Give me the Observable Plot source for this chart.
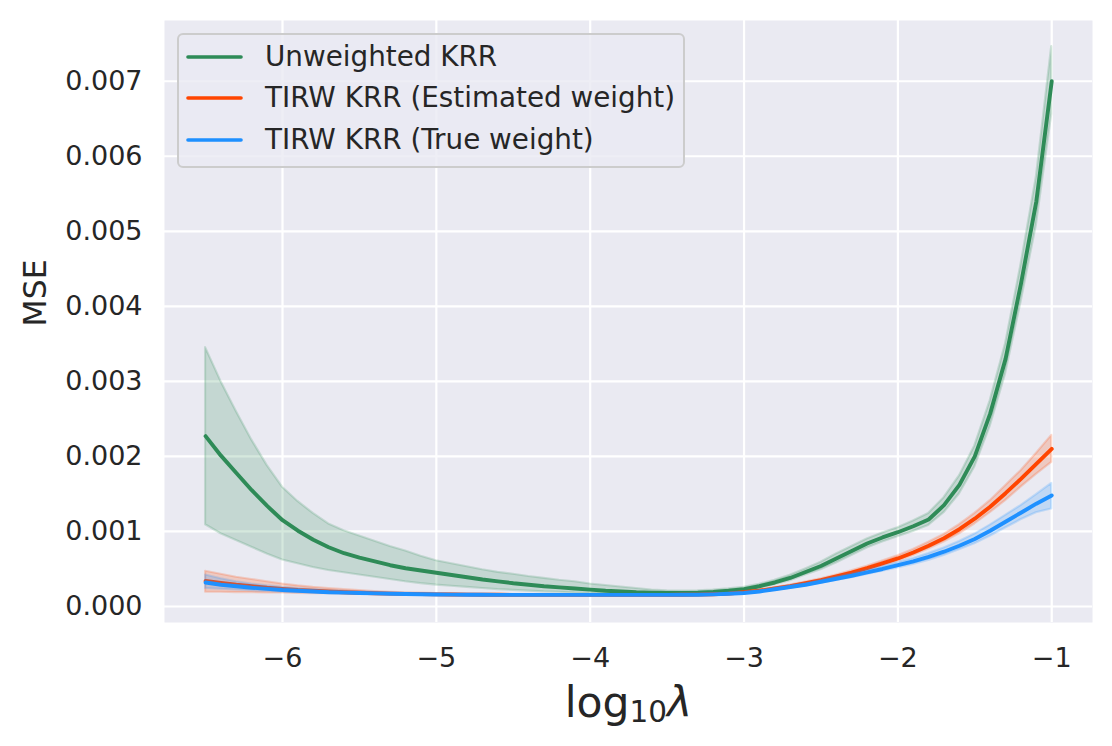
<!DOCTYPE html>
<html><head><meta charset="utf-8">
<script src="https://cdn.jsdelivr.net/npm/d3@7"></script>
<script src="https://cdn.jsdelivr.net/npm/@observablehq/plot@0.6"></script>
<style>
body{margin:0;background:#fff;}
#wrap{position:relative;width:1112px;height:746px;font-family:"DejaVu Sans",sans-serif;color:#262626;}
#legend{position:absolute;left:177px;top:33px;width:508px;height:135px;box-sizing:border-box;border:2px solid #cccccc;border-radius:6px;background:rgba(234,234,242,0.8);padding-top:1px;}
.row{display:flex;align-items:center;height:41.6px;}
.row svg{margin-left:7px;width:57px;height:10px;flex:none;}
.row span{margin-left:22px;font-size:27.8px;white-space:nowrap;line-height:1;}
</style></head>
<body>
<div id="wrap"><div id="legend"></div></div>
<script>
// log10(lambda) grid
const xs = [-6.5,-6.4,-6.3,-6.2,-6.1,-6.0,-5.9,-5.8,-5.7,-5.6,
  -5.5,-5.4,-5.3,-5.2,-5.1,-5.0,-4.9,-4.8,-4.7,-4.6,
  -4.5,-4.4,-4.3,-4.2,-4.1,-4.0,-3.9,-3.8,-3.7,-3.6,
  -3.5,-3.4,-3.3,-3.2,-3.1,-3.0,-2.9,-2.8,-2.7,-2.6,
  -2.5,-2.4,-2.3,-2.2,-2.1,-2.0,-1.9,-1.8,-1.7,-1.6,
  -1.5,-1.4,-1.3,-1.2,-1.1,-1.0];

const seriesNames = ["Unweighted KRR", "TIRW KRR (Estimated weight)", "TIRW KRR (True weight)"];

const unweightedMean = [0.00227,0.00201,0.00178,0.00155,0.00134,0.00115,0.00101,0.00089,0.00079,0.00071,
  0.00065,0.00060,0.00055,0.00051,0.00048,0.00045,0.00042,0.00039,0.00036,0.000335,
  0.00031,0.00029,0.00027,0.000255,0.00024,0.000225,0.00021,0.00020,0.00019,0.000185,
  0.00018,0.00018,0.000185,0.000195,0.00021,0.00023,0.00027,0.00032,0.00038,0.00046,
  0.00054,0.00064,0.00074,0.00084,0.00092,0.00099,0.00107,0.00116,0.00135,0.00162,
  0.00200,0.00257,0.00330,0.00430,0.00540,0.00700];
const unweightedLow = [0.00109,0.00097,0.00088,0.00079,0.00070,0.00062,0.00057,0.00052,0.00048,0.00045,
  0.00042,0.00039,0.00036,0.00033,0.000305,0.000285,0.00027,0.000255,0.00024,0.000225,
  0.000215,0.000205,0.000195,0.00019,0.00018,0.000175,0.00017,0.000165,0.00016,0.00016,
  0.000155,0.000155,0.00016,0.00017,0.000185,0.000205,0.000245,0.00029,0.000345,0.00042,
  0.00049,0.00058,0.00068,0.00078,0.00086,0.00093,0.00100,0.00108,0.00125,0.00150,
  0.00186,0.00240,0.00310,0.00405,0.00508,0.00656];
const unweightedHigh = [0.00345,0.00300,0.00260,0.00222,0.00188,0.00159,0.00140,0.00124,0.00110,0.00101,
  0.00094,0.00087,0.00080,0.00074,0.00067,0.00061,0.00057,0.00053,0.00049,0.000455,
  0.00043,0.00040,0.000375,0.00035,0.00033,0.00030,0.00028,0.00026,0.00024,0.00022,
  0.00021,0.000205,0.00021,0.00022,0.000235,0.000255,0.000295,0.00035,0.000415,0.00050,
  0.00059,0.00070,0.00080,0.00090,0.00098,0.00105,0.00114,0.00124,0.00145,0.00174,
  0.00214,0.00274,0.00350,0.00455,0.00572,0.00746];

const estimatedMean = [0.00034,0.000315,0.00029,0.00027,0.00025,0.000235,0.00022,0.00021,0.00020,0.00019,
  0.000183,0.000177,0.000172,0.000168,0.000165,0.000162,0.00016,0.000158,0.000157,0.000156,
  0.000155,0.000155,0.000155,0.000155,0.000155,0.000155,0.000155,0.000155,0.000155,0.000155,
  0.000155,0.000156,0.000158,0.000163,0.000172,0.00019,0.00021,0.00024,0.00027,0.00031,
  0.00035,0.00040,0.00045,0.00051,0.000575,0.00064,0.00072,0.00081,0.00091,0.00103,
  0.00117,0.00133,0.00151,0.00170,0.00190,0.00210];
const estimatedLow = [0.00019,0.00019,0.000185,0.000185,0.00018,0.00018,0.000175,0.000172,0.00017,0.000167,
  0.000165,0.000162,0.00016,0.000158,0.000156,0.000155,0.000153,0.000152,0.000151,0.00015,
  0.00015,0.00015,0.00015,0.00015,0.00015,0.00015,0.00015,0.00015,0.00015,0.00015,
  0.00015,0.000151,0.000153,0.000157,0.000165,0.00018,0.0002,0.000228,0.000257,0.000295,
  0.000333,0.00038,0.000428,0.000485,0.000545,0.000605,0.00068,0.000765,0.00086,0.00097,
  0.0011,0.00125,0.00141,0.00159,0.00176,0.00192];
const estimatedHigh = [0.00047,0.00043,0.00039,0.00036,0.00033,0.0003,0.000275,0.000255,0.00024,0.000225,
  0.000212,0.0002,0.00019,0.000183,0.000177,0.000172,0.000168,0.000165,0.000163,0.000162,
  0.00016,0.00016,0.00016,0.00016,0.00016,0.00016,0.00016,0.00016,0.00016,0.00016,
  0.00016,0.000161,0.000164,0.00017,0.00018,0.0002,0.000222,0.000253,0.000285,0.000327,
  0.00037,0.00042,0.000475,0.000537,0.000605,0.000675,0.00076,0.000855,0.00096,0.00109,
  0.00124,0.00141,0.00161,0.00181,0.00204,0.00228];

const trueMean = [0.00032,0.00029,0.00027,0.00025,0.000235,0.00022,0.00021,0.0002,0.00019,0.000185,
  0.00018,0.000175,0.00017,0.000166,0.000163,0.00016,0.000158,0.000157,0.000156,0.000155,
  0.000155,0.000155,0.000155,0.000155,0.000155,0.000155,0.000155,0.000155,0.000155,0.000155,
  0.000155,0.000156,0.000157,0.000162,0.00017,0.00018,0.0002,0.00023,0.00026,0.00029,
  0.00033,0.00037,0.00041,0.000455,0.0005,0.00055,0.0006,0.00066,0.00073,0.00081,
  0.0009,0.00101,0.00113,0.00125,0.00137,0.00148];
const trueLow = [0.00024,0.00023,0.00022,0.00021,0.0002,0.00019,0.000185,0.00018,0.000175,0.000172,
  0.00017,0.000167,0.000164,0.000161,0.000159,0.000157,0.000155,0.000154,0.000153,0.000152,
  0.000152,0.000152,0.000152,0.000152,0.000152,0.000152,0.000152,0.000152,0.000152,0.000152,
  0.000152,0.000152,0.000153,0.000157,0.000164,0.000173,0.00019,0.000217,0.000245,0.000273,
  0.00031,0.000347,0.000385,0.000427,0.00047,0.000515,0.00056,0.000615,0.00068,0.000755,
  0.000835,0.000935,0.001045,0.001155,0.00125,0.0013];
const trueHigh = [0.00042,0.00037,0.00033,0.0003,0.000275,0.000255,0.00024,0.000225,0.000212,0.000203,
  0.000195,0.000188,0.00018,0.000175,0.00017,0.000166,0.000163,0.000161,0.00016,0.000159,
  0.000158,0.000158,0.000158,0.000158,0.000158,0.000158,0.000158,0.000158,0.000158,0.000158,
  0.000158,0.00016,0.000161,0.000167,0.000176,0.000188,0.00021,0.000243,0.000275,0.000307,
  0.00035,0.000393,0.000435,0.000483,0.00053,0.000585,0.00064,0.000705,0.00078,0.000865,
  0.000965,0.001085,0.001215,0.001345,0.00149,0.00164];

const xTicks = [-6, -5, -4, -3, -2, -1];
const xTickLabels = ["−6", "−5", "−4", "−3", "−2", "−1"];
const yTicks = [0, 0.001, 0.002, 0.003, 0.004, 0.005, 0.006, 0.007];
const yTickLabels = ["0.000", "0.001", "0.002", "0.003", "0.004", "0.005", "0.006", "0.007"];
const xLabel = "log10λ";
const yLabel = "MSE";

// styles (kept apart from data)
const colors = ["#2e8b57", "#ff4500", "#1e90ff"];
const textColor = "#262626";

const seriesData = [
  [unweightedMean, unweightedLow, unweightedHigh],
  [estimatedMean, estimatedLow, estimatedHigh],
  [trueMean, trueLow, trueHigh]
];
const tables = seriesData.map(([m, lo, hi], k) =>
  xs.map((x, i) => ({x, mean: m[i], lo: lo[i], hi: hi[i], series: seriesNames[k]})));

const seriesMarks = tables.flatMap((rows, k) => [
  Plot.areaY(rows, {x: "x", y1: "lo", y2: "hi", fill: colors[k], fillOpacity: 0.2,
    stroke: colors[k], strokeOpacity: 0.2, strokeWidth: 2.2}),
  Plot.lineY(rows, {x: "x", y: "mean", stroke: colors[k], strokeWidth: 3.9})
]);

const svg = Plot.plot({
  width: 1112,
  height: 746,
  marginLeft: 164,
  marginRight: 20,
  marginTop: 20,
  marginBottom: 124,
  style: {fontFamily: "DejaVu Sans", fontSize: "27px", color: textColor, background: "white"},
  x: {domain: [-6.767, -0.735]},
  y: {domain: [-0.0002133, 0.0078093]},
  marks: [
    Plot.frame({fill: "#eaeaf2", stroke: null}),
    Plot.gridX({ticks: xTicks, stroke: "white", strokeOpacity: 1, strokeWidth: 2.2}),
    Plot.gridY({ticks: yTicks, stroke: "white", strokeOpacity: 1, strokeWidth: 2.2}),
    Plot.axisX({ticks: xTicks, tickFormat: d => xTickLabels[xTicks.indexOf(d)], tickSize: 0, tickPadding: 25.5, label: null, fill: textColor}),
    Plot.axisY({ticks: yTicks, tickFormat: d => yTickLabels[yTicks.indexOf(d)], tickSize: 0, tickPadding: 22, label: null, fill: textColor}),
    ...seriesMarks,
    Plot.text([xLabel], {frameAnchor: "bottom", lineAnchor: "top", dy: 64, fontSize: 42.5, fill: textColor}),
    Plot.text([yLabel], {frameAnchor: "left", rotate: -90, lineAnchor: "middle", dx: -129, dy: 5, fontSize: 31.5, fill: textColor})
  ]
});

// rich text for the x label: log, subscript 10, italic lambda
svg.querySelectorAll("text").forEach(t => {
  if (t.textContent === xLabel) {
    while (t.firstChild) t.removeChild(t.firstChild);
    const ns = "http://www.w3.org/2000/svg";
    const a = document.createElementNS(ns, "tspan"); a.textContent = "log";
    const b = document.createElementNS(ns, "tspan"); b.textContent = "10";
    b.setAttribute("font-size", "29.5"); b.setAttribute("dy", "5");
    const c = document.createElementNS(ns, "tspan"); c.textContent = "λ";
    c.setAttribute("font-style", "italic"); c.setAttribute("dy", "-5");
    t.append(a, b, c);
  }
});

const wrap = document.getElementById("wrap");
wrap.insertBefore(svg, wrap.firstChild);

const legend = document.getElementById("legend");
seriesNames.forEach((name, k) => {
  const row = document.createElement("div");
  row.className = "row";
  row.innerHTML = `<svg viewBox="0 0 57 10"><line x1="2" y1="5" x2="55" y2="5" stroke="${colors[k]}" stroke-width="3.6" stroke-linecap="round"/></svg>`;
  const span = document.createElement("span");
  span.textContent = name;
  row.appendChild(span);
  legend.appendChild(row);
});
</script>
</body></html>
